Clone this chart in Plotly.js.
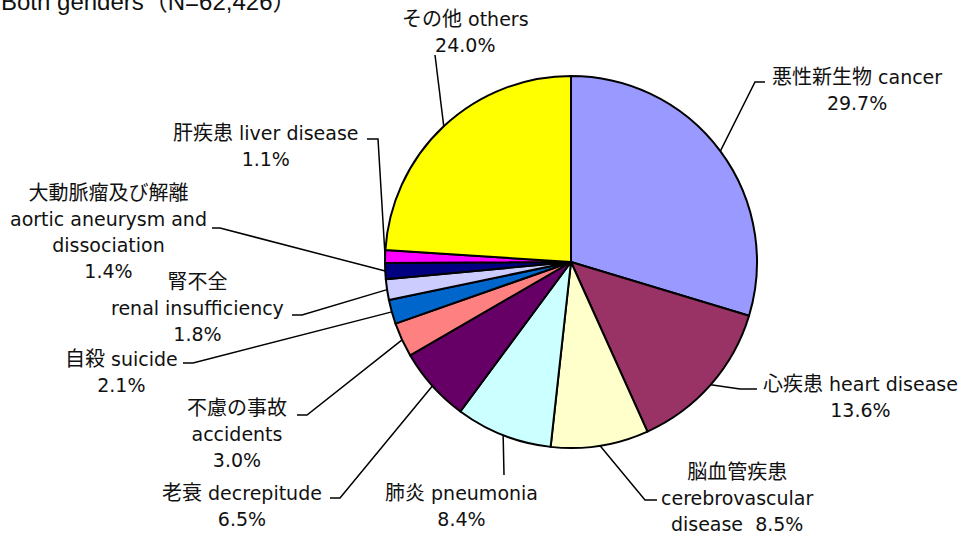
<!DOCTYPE html>
<html>
<head>
<meta charset="utf-8">
<script src="https://cdn.plot.ly/plotly-3.0.1.min.js"></script>
<style>html,body{margin:0;padding:0;background:#fff;}#chart{width:964px;height:536px;}</style>
</head>
<body>
<div id="chart"></div>
<script>
// ---- data ----
const categoriesJa = ['悪性新生物','心疾患','脳血管疾患','肺炎','老衰','不慮の事故','自殺','腎不全','大動脈瘤及び解離','肝疾患','その他'];
const categoriesEn = ['cancer','heart disease','cerebrovascular<br>disease ','pneumonia','decrepitude','accidents','suicide','renal insufficiency','aortic aneurysm and<br>dissociation','liver disease','others'];
const values = [29.7, 13.6, 8.5, 8.4, 6.5, 3.0, 2.1, 1.8, 1.4, 1.1, 24.0];
const colors = ['#9999FF','#993366','#FFFFCC','#CCFFFF','#660066','#FF8080','#0066CC','#CCCCFF','#000080','#FF00FF','#FFFF00'];
const titleText = 'Both genders（N=62,426）';

// ---- layout config (pixels) ----
const W = 964, H = 536;
const pieCx = 571, pieCy = 262, pieR = 186;
// label templates: how each label is broken into lines
const labelTemplates = ['{ja} {en}<br>{p}','{ja} {en}<br>{p}','{ja}<br>{en} {p}','{ja} {en}<br>{p}','{ja} {en}<br>{p}',
  '{ja}<br>{en}<br>{p}','{ja} {en}<br>{p}','{ja}<br>{en}<br>{p}','{ja}<br>{en}<br>{p}','{ja} {en}<br>{p}','{ja} {en}<br>{p}'];
const labelPos = [[857,90],[860,396],[737,497],[461,505],[242,505],[237,433],[121,371],[197,307],[108,232],[266,146],[465,32]];
const leaders = [
  {elbow:[755,82], end:[765,82]},
  {elbow:[740,389], end:[757,389]},
  {elbow:[645,500], end:[657,500]},
  {elbow:[504,475]},
  {elbow:[340,498], end:[330,498]},
  {elbow:[307,415], end:[297,415]},
  {elbow:[193,363], end:[183,363]},
  {elbow:[302,315], end:[292,315]},
  {elbow:[220,228], end:[212,228]},
  {elbow:[378,139], end:[367,139]},
  {elbow:[435,55]}
];

const px = x => x / W;
const py = y => 1 - y / H;

function styleLine(line) {
  return line.replace(/[\x20-\x7E]+/g, m => '<span style="font-size:19px">' + m + '</span>');
}
function fmt(text) {
  return text.split('<br>').map(styleLine).join('<br>');
}

const total = values.reduce((a, b) => a + b, 0);
let cum = 0;
const annotations = [];
const shapes = [];
values.forEach((v, i) => {
  const mid = (cum + v / 2) / total * 2 * Math.PI;
  cum += v;
  const ex = pieCx + pieR * Math.sin(mid);
  const ey = pieCy - pieR * Math.cos(mid);
  const ld = leaders[i];
  let path = 'M' + px(ex) + ',' + py(ey) + ' L' + px(ld.elbow[0]) + ',' + py(ld.elbow[1]);
  if (ld.end) path += ' L' + px(ld.end[0]) + ',' + py(ld.end[1]);
  shapes.push({type:'path', xref:'paper', yref:'paper', path: path, line:{color:'#000', width:1.5}});
  const txt = labelTemplates[i].replace('{ja}', categoriesJa[i]).replace('{en}', categoriesEn[i]).replace('{p}', v.toFixed(1) + '%');
  annotations.push({
    xref:'paper', yref:'paper', x: px(labelPos[i][0]), y: py(labelPos[i][1]),
    xanchor:'center', yanchor:'middle', align:'center', showarrow:false,
    text: fmt(txt),
    font:{family:'DejaVu Sans, Noto Sans CJK JP', size:20, color:'#111'}
  });
});

annotations.push({
  xref:'paper', yref:'paper', x: px(-1), y: py(2), xanchor:'left', yanchor:'middle', showarrow:false,
  text: titleText, font:{family:'Liberation Sans, Arial, Noto Sans CJK JP', size:24, color:'#111'}
});

const data = [{
  type:'pie',
  values: values,
  labels: categoriesJa.map((j, i) => j + ' ' + categoriesEn[i]),
  marker:{colors: colors, line:{color:'#000', width:2}},
  sort:false, direction:'clockwise', rotation:0,
  textinfo:'none', hoverinfo:'skip', showlegend:false,
  domain:{x:[px(pieCx - pieR), px(pieCx + pieR)], y:[py(pieCy + pieR), py(pieCy - pieR)]}
}];

const layout = {
  width: W, height: H,
  margin:{l:0, r:0, t:0, b:0},
  paper_bgcolor:'#fff', plot_bgcolor:'#fff',
  showlegend:false,
  annotations: annotations,
  shapes: shapes
};

Plotly.newPlot('chart', data, layout, {staticPlot:true, displayModeBar:false});
</script>
</body>
</html>
